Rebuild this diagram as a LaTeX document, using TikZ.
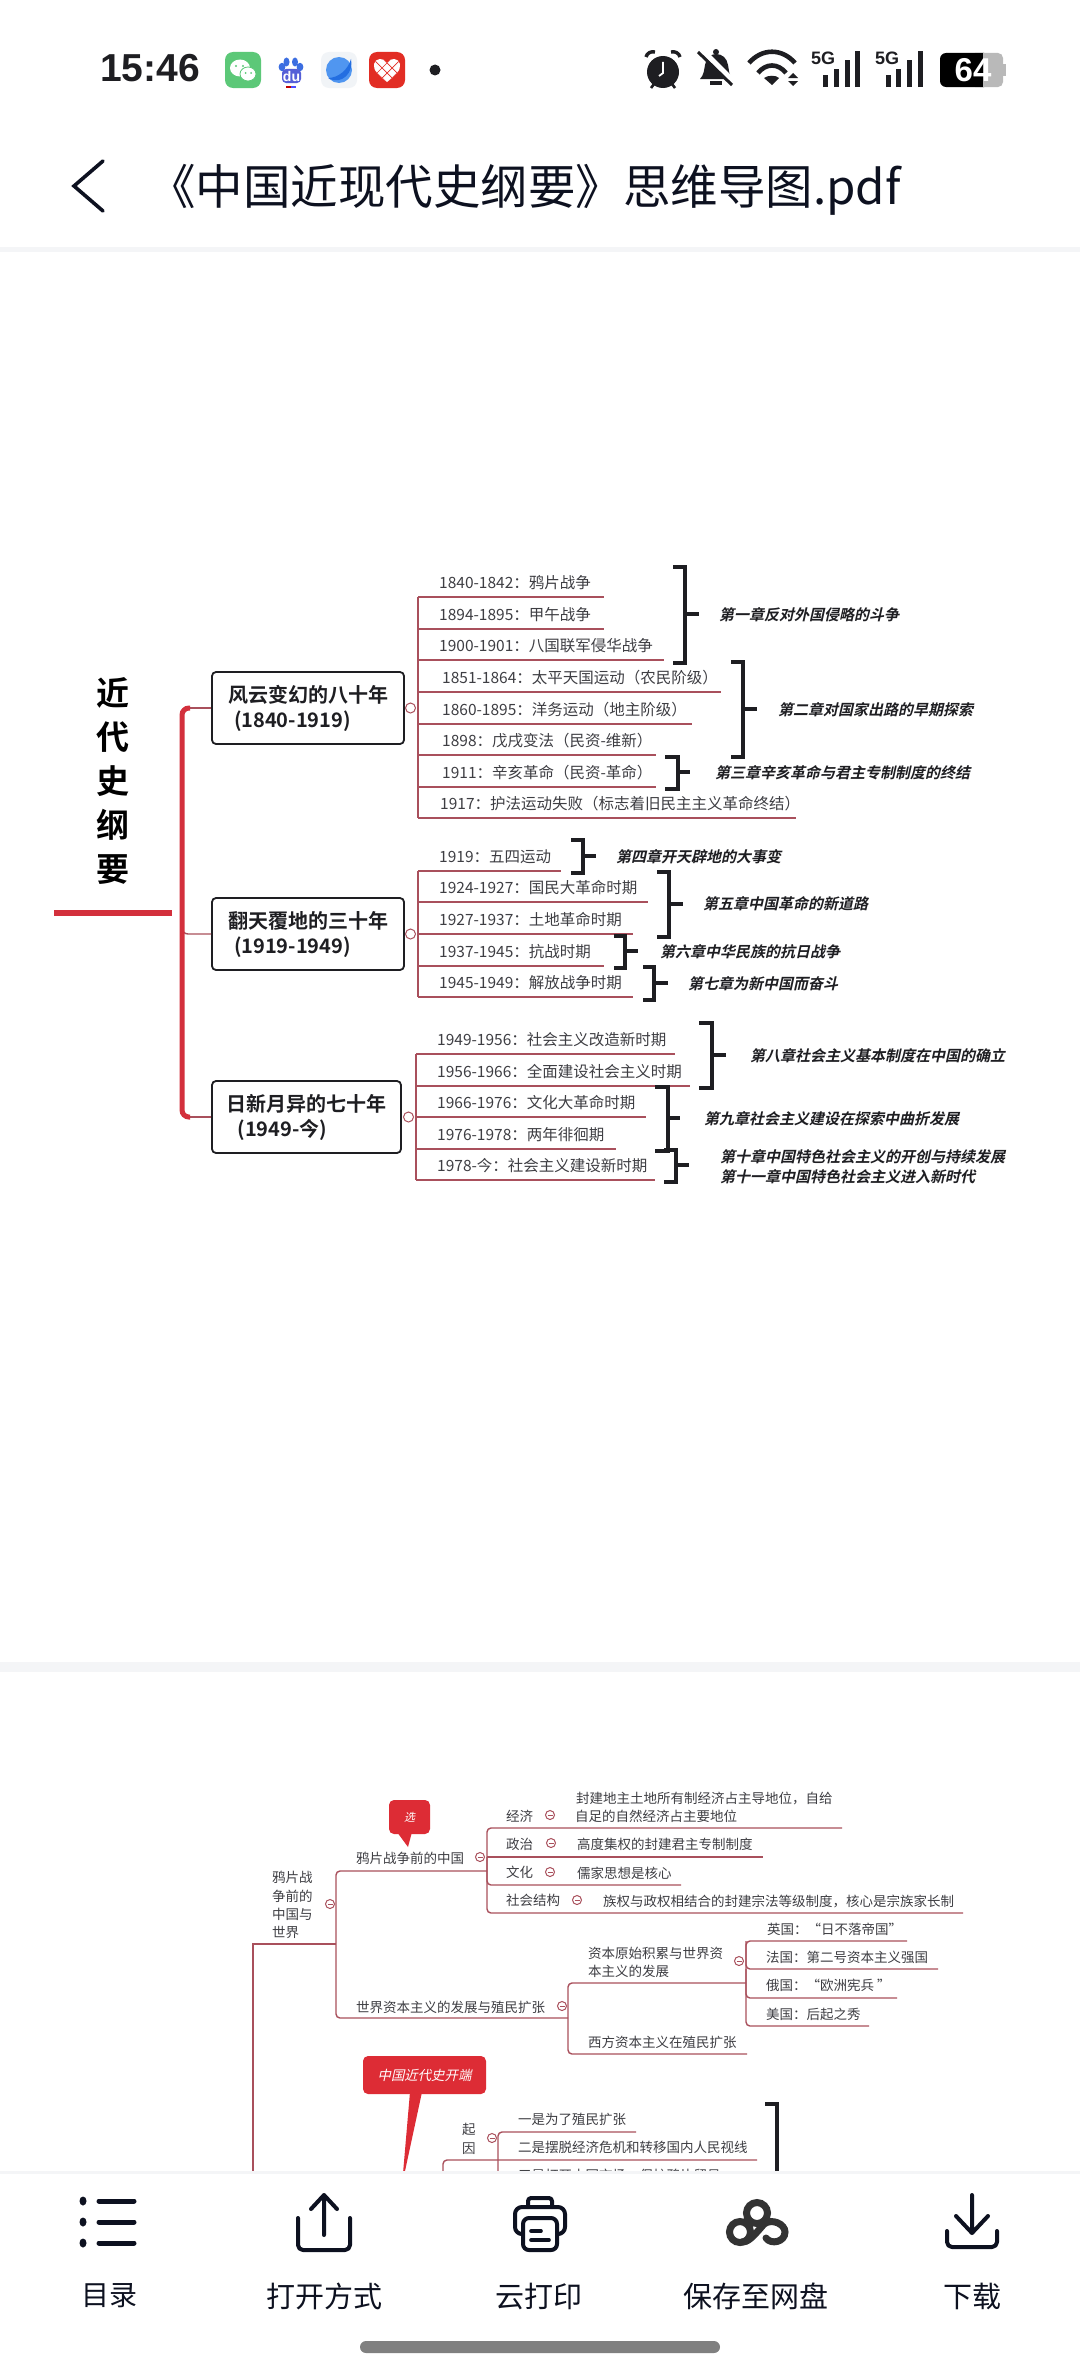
\documentclass[tikz,border=0pt]{standalone}
\usepackage{fontspec}
\setmainfont{Noto Sans CJK SC}[BoldFont={Noto Sans CJK SC Bold}]
\newfontfamily\slantfont{Noto Sans CJK SC}[FakeSlant=0.22,BoldFont={Noto Sans CJK SC Bold},BoldFeatures={FakeSlant=0.22}]
\newfontfamily\barfont{Liberation Sans}
\definecolor{twigred}{HTML}{A9505C}
\definecolor{trunkred}{HTML}{D3303C}
\definecolor{flagred}{HTML}{DD2C35}
\definecolor{inkdark}{HTML}{1E1E22}
\definecolor{rowgray}{HTML}{3E3E43}
\definecolor{navyink}{HTML}{0D1120}
\definecolor{paleband}{HTML}{F4F5F7}
\definecolor{wxgreen}{HTML}{5CC878}
\definecolor{baidublue}{HTML}{3C6EE1}
\definecolor{baidupurple}{HTML}{555FD7}
\definecolor{planetbg}{HTML}{F1F4F7}
\definecolor{planetlight}{HTML}{5096F0}
\definecolor{planetdark}{HTML}{236EE1}
\definecolor{iconred}{HTML}{E22D24}
\definecolor{battgray}{HTML}{B9B9B9}
\definecolor{panink}{HTML}{333333}
\definecolor{homegray}{HTML}{808080}
\tikzset{
	rowtext/.style={anchor=west,inner sep=0pt,text=rowgray,font=\fontsize{15.5}{15.5}\selectfont,text height=13.6pt,text depth=1.9pt},
	smalltext/.style={anchor=west,inner sep=0pt,text=rowgray,font=\fontsize{13.5}{13.5}\selectfont,text height=11.9pt,text depth=1.6pt},
	chaptext/.style={anchor=west,inner sep=0pt,text=inkdark,font=\slantfont\bfseries\fontsize{15}{15}\selectfont,text height=13.2pt,text depth=1.8pt},
	era/.style={draw=inkdark,line width=1.8pt,rounded corners=4pt,minimum width=192pt,minimum height=72pt,inner sep=0pt,align=left,text=inkdark,font=\bfseries\fontsize{20}{25}\selectfont},
	hub/.style={circle,draw=twigred,fill=white,line width=1pt,minimum size=10pt,inner sep=0pt},
	foldhub/.style={hub,minimum size=9pt,path picture={\draw[twigred,line width=.8pt] ([xshift=2pt]path picture bounding box.west) -- ([xshift=-2pt]path picture bounding box.east);}},
	twig/.style={draw=twigred,line width=1.4pt},
	bracket/.style={draw=inkdark,line width=4pt},
	trunk/.style={draw=trunkred,line width=5pt},
	flag/.style={fill=flagred,rounded corners=5pt,inner sep=0pt,text=white,font=\slantfont\fontsize{13.4}{13.4}\selectfont},
	tooltext/.style={inner sep=0pt,text=navyink,font=\fontsize{29}{29}\selectfont},
	toolline/.style={draw=navyink,line width=4pt,line cap=round,line join=round},
}
\begin{document}
\begin{tikzpicture}[x=1pt,y=-1pt]
	\useasboundingbox (0,0) rectangle (1080,2374);
	\fill[white] (0,0) rectangle (1080,2374);

	%status bar
	\node[inner sep=0pt,text=inkdark,font=\barfont\bfseries\fontsize{39}{39}\selectfont] (clock) at (150,68) {15:46};
	\fill[wxgreen,rounded corners=8pt] (225,52) rectangle (261,88);
	\fill[white] (240,68) ellipse (10 and 8.5);
	\fill[white,draw=wxgreen,line width=.8pt] (248,74) ellipse (8 and 7);
	\fill[wxgreen] (236,66) circle (1.1) (243,66) circle (1.1) (245.5,73) circle (1) (251,73) circle (1);
	\fill[baidublue] (282,67) ellipse (3.4 and 4.2) (286.5,62) ellipse (3 and 4.5) (295,62) ellipse (3 and 4.5) (300,67) ellipse (3.4 and 4.2);
	\fill[baidupurple,rounded corners=4pt] (282,69) rectangle (301,83);
	\node[inner sep=0pt,text=white,font=\barfont\bfseries\fontsize{14}{14}\selectfont] (baidu) at (291.5,76) {du};
	\fill[red!75!black] (286,86) rectangle (291,88);
	\fill[blue!70!white] (291,86) rectangle (296,88);
	\fill[planetbg,rounded corners=8pt] (321,52) rectangle (357,88);
	\fill[planetlight] (339,70) circle (13);
	\fill[planetdark] (328,78) .. controls (338,78) and (348,70) .. (351,59) .. controls (354,72) and (342,86) .. (328,78) -- cycle;
	\fill[iconred,rounded corners=8pt] (369,52) rectangle (405,88);
	\begin{scope}
		\clip (387,82) .. controls (378,75) and (373,70) .. (374,64) .. controls (375,58) and (384,57) .. (387,63) .. controls (390,57) and (399,58) .. (400,64) .. controls (401,70) and (396,75) .. (387,82) -- cycle;
		\fill[white] (370,55) rectangle (404,85);
		\draw[iconred,line width=.7pt] (372,68) -- (392,88) (372,58) -- (402,88) (382,58) -- (402,78) (402,68) -- (382,88) (402,58) -- (372,88) (392,58) -- (372,78);
	\end{scope}
	\fill[inkdark] (435,70) circle (5.5);

	%alarm clock
	\fill[inkdark] (663,72) circle (16);
	\draw[white,line width=1.8pt] (663,62) -- (663,73) -- (659,76);
	\draw[inkdark,line width=3.4pt] (646,57) .. controls (647,53) and (651,51) .. (655,52);
	\draw[inkdark,line width=3.4pt] (671,52) .. controls (675,51) and (679,53) .. (680,57);
	\draw[inkdark,line width=2.6pt] (654,84) -- (651,88) (672,84) -- (675,88);
	%muted bell
	\fill[inkdark] (716,52) circle (3);
	\fill[inkdark] (700,79) .. controls (704,75) and (704,70) .. (705,65) .. controls (706,58) and (711,54) .. (716,54) .. controls (722,54) and (727,58) .. (728,65) .. controls (729,70) and (729,75) .. (732,79) -- cycle;
	\fill[inkdark] (710,81) rectangle (722,85);
	\draw[white,line width=5.5pt] (701,49) -- (735,83);
	\draw[inkdark,line width=3pt] (698,52) -- (732,85);
	%wifi
	\draw[inkdark,line width=4.6pt] (749,63) .. controls (762,48) and (782,48) .. (795,63);
	\draw[inkdark,line width=4.6pt] (758,73) .. controls (766,63) and (778,63) .. (786,73);
	\fill[inkdark] (764,78) .. controls (768,75) and (776,75) .. (779,78) -- (772,85) -- cycle;
	\fill[inkdark] (793,73) -- (798,78) -- (788,78) -- cycle (788,81) -- (798,81) -- (793,86) -- cycle;
	%signal
	\node[inner sep=0pt,text=inkdark,font=\barfont\bfseries\fontsize{18}{18}\selectfont] (fiveg1) at (823,58) {5G};
	\node[inner sep=0pt,text=inkdark,font=\barfont\bfseries\fontsize{18}{18}\selectfont] (fiveg2) at (887,58) {5G};
	\draw[inkdark,line width=5pt] (825,87) -- (825,75) (836,87) -- (836,69) (847,87) -- (847,60) (857,87) -- (857,51);
	\draw[inkdark,line width=5pt] (888,87) -- (888,75) (898,87) -- (898,69) (909,87) -- (909,60) (920,87) -- (920,51);
	%battery
	\fill[battgray,rounded corners=5pt] (970,53) rectangle (1003,87);
	\fill[battgray] (1003,64) rectangle (1006,76);
	\fill[black,rounded corners=6pt] (940,53) rectangle (990,87);
	\fill[battgray] (983,53) rectangle (992,87);
	\node[inner sep=0pt,text=white,font=\barfont\bfseries\fontsize{33}{33}\selectfont] (battery) at (973,70) {64};

	%title bar
	\coordinate (backtop) at (103,161);
	\coordinate (backtip) at (74,186);
	\coordinate (backlow) at (103,211);
	\draw[navyink,line width=3.6pt,line cap=round,line join=miter] (backtop) -- (backtip) -- (backlow);
	\node[anchor=west,inner sep=0pt,text=navyink,font=\fontsize{47.5}{47.5}\selectfont] (doctitle) at (148,190) {《中国近现代史纲要》思维导图.pdf};
	\fill[paleband] (0,247) rectangle (1080,252);

	%overview page
	\node[inner sep=0pt,align=center,text=black,font=\bfseries\fontsize{33}{44}\selectfont] (maintitle) at (113,780.5) {近\\代\\史\\纲\\要};
	\coordinate (stemleft) at (54,913);
	\coordinate (stemright) at (172,913);
	\draw[draw=trunkred,line width=6pt] (stemleft) -- (stemright);

	\node[era] (era1) at (308,708) {风云变幻的八十年\\\hspace{6pt}(1840-1919)};
	\node[era] (era2) at (308,934) {翻天覆地的三十年\\\hspace{6pt}(1919-1949)};
	\node[era,minimum width=189pt] (era3) at (306.5,1117) {日新月异的七十年\\\hspace{11pt}(1949-今)};
	\coordinate (trunktop) at (182,708);
	\coordinate (trunklow) at (182,1117);
	\draw[twig] (era1.west) -- (188,708);
	\draw[twig] (era3.west) -- (188,1117);
	\draw[twig,rounded corners=6pt] (182,920) |- (era2.west);
	\draw[trunk,rounded corners=7pt] (190,708) -- (trunktop) -- (trunklow) -- (190,1117);

	%first era
	\node[hub] (hub1) at (410.5,708) {};
	\coordinate (fork1) at (418,708);
	\coordinate (a1) at (604,597);
	\coordinate (a2) at (604,629);
	\coordinate (a3) at (664,660);
	\coordinate (a4) at (721,692);
	\coordinate (a5) at (692,724);
	\coordinate (a6) at (656,755);
	\coordinate (a7) at (656,787);
	\coordinate (a8) at (796,818);
	\draw[twig] (fork1 |- a1) -- (fork1 |- a8);
	\draw[twig] (fork1 |- a1) -- (a1);
	\draw[twig] (fork1 |- a2) -- (a2);
	\draw[twig] (fork1 |- a3) -- (a3);
	\draw[twig] (fork1 |- a4) -- (a4);
	\draw[twig] (fork1 |- a5) -- (a5);
	\draw[twig] (fork1 |- a6) -- (a6);
	\draw[twig] (fork1 |- a7) -- (a7);
	\draw[twig] (fork1 |- a8) -- (a8);
	\node[rowtext] (ra1) at (439,583) {1840-1842：鸦片战争};
	\node[rowtext] (ra2) at (439,615) {1894-1895：甲午战争};
	\node[rowtext] (ra3) at (439,646) {1900-1901：八国联军侵华战争};
	\node[rowtext] (ra4) at (442,678) {1851-1864：太平天国运动（农民阶级）};
	\node[rowtext] (ra5) at (442,710) {1860-1895：洋务运动（地主阶级）};
	\node[rowtext] (ra6) at (442,741) {1898：戊戌变法（民资-维新）};
	\node[rowtext] (ra7) at (442,773) {1911：辛亥革命（民资-革命）};
	\node[rowtext] (ra8) at (440,804) {1917：护法运动失败（标志着旧民主主义革命终结）};
	\draw[bracket] (673,567) -- (685,567) -- (685,663) -- (673,663) (685,614) -- (699,614);
	\draw[bracket] (731,662) -- (743,662) -- (743,757) -- (731,757) (743,709) -- (757,709);
	\draw[bracket] (665,757) -- (678,757) -- (678,789) -- (665,789) (678,772) -- (690,772);
	\node[chaptext] (cha1) at (719,615) {第一章反对外国侵略的斗争};
	\node[chaptext] (cha2) at (778,710) {第二章对国家出路的早期探索};
	\node[chaptext] (cha3) at (715,773) {第三章辛亥革命与君主专制制度的终结};

	%second era
	\node[hub] (hub2) at (410.5,934) {};
	\coordinate (fork2) at (418,934);
	\coordinate (b1) at (561,871);
	\coordinate (b2) at (648,902);
	\coordinate (b3) at (633,934);
	\coordinate (b4) at (604,966);
	\coordinate (b5) at (633,997);
	\draw[twig] (fork2 |- b1) -- (fork2 |- b5);
	\draw[twig] (fork2 |- b1) -- (b1);
	\draw[twig] (fork2 |- b2) -- (b2);
	\draw[twig] (fork2 |- b3) -- (b3);
	\draw[twig] (fork2 |- b4) -- (b4);
	\draw[twig] (fork2 |- b5) -- (b5);
	\node[rowtext] (rb1) at (439,857) {1919：五四运动};
	\node[rowtext] (rb2) at (439,888) {1924-1927：国民大革命时期};
	\node[rowtext] (rb3) at (439,920) {1927-1937：土地革命时期};
	\node[rowtext] (rb4) at (439,952) {1937-1945：抗战时期};
	\node[rowtext] (rb5) at (439,983) {1945-1949：解放战争时期};
	\draw[bracket] (571,840) -- (583,840) -- (583,873) -- (571,873) (583,856) -- (596,856);
	\draw[bracket] (657,872) -- (669,872) -- (669,937) -- (657,937) (669,904) -- (683,904);
	\draw[bracket] (614,936) -- (625,936) -- (625,968) -- (614,968) (625,951) -- (638,951);
	\draw[bracket] (643,967) -- (654,967) -- (654,1000) -- (643,1000) (654,983) -- (668,983);
	\node[chaptext] (chb1) at (616,857) {第四章开天辟地的大事变};
	\node[chaptext] (chb2) at (703,904) {第五章中国革命的新道路};
	\node[chaptext] (chb3) at (660,952) {第六章中华民族的抗日战争};
	\node[chaptext] (chb4) at (688,984) {第七章为新中国而奋斗};

	%third era
	\node[hub] (hub3) at (408.5,1117) {};
	\coordinate (fork3) at (416,1117);
	\coordinate (c1) at (675,1054);
	\coordinate (c2) at (690,1086);
	\coordinate (c3) at (646,1117);
	\coordinate (c4) at (616,1149);
	\coordinate (c5) at (655,1180);
	\draw[twig] (fork3 |- c1) -- (fork3 |- c5);
	\draw[twig] (fork3 |- c1) -- (c1);
	\draw[twig] (fork3 |- c2) -- (c2);
	\draw[twig] (fork3 |- c3) -- (c3);
	\draw[twig] (fork3 |- c4) -- (c4);
	\draw[twig] (fork3 |- c5) -- (c5);
	\node[rowtext] (rc1) at (437,1040) {1949-1956：社会主义改造新时期};
	\node[rowtext] (rc2) at (437,1072) {1956-1966：全面建设社会主义时期};
	\node[rowtext] (rc3) at (437,1103) {1966-1976：文化大革命时期};
	\node[rowtext] (rc4) at (437,1135) {1976-1978：两年徘徊期};
	\node[rowtext] (rc5) at (437,1166) {1978-今：社会主义建设新时期};
	\draw[bracket] (699,1023) -- (712,1023) -- (712,1088) -- (699,1088) (712,1055) -- (726,1055);
	\draw[bracket] (655,1087) -- (668,1087) -- (668,1151) -- (655,1151) (668,1118) -- (680,1118);
	\draw[bracket] (664,1150) -- (676,1150) -- (676,1182) -- (664,1182) (676,1165) -- (689,1165);
	\node[chaptext] (chc1) at (750,1056) {第八章社会主义基本制度在中国的确立};
	\node[chaptext] (chc2) at (704,1119) {第九章社会主义建设在探索中曲折发展};
	\node[chaptext] (chc3) at (720,1157) {第十章中国特色社会主义的开创与持续发展};
	\node[chaptext] (chc4) at (720,1177) {第十一章中国特色社会主义进入新时代};

	\fill[paleband] (0,1662) rectangle (1080,1672);

	%second page
	\node[smalltext] (w1) at (272,1877) {鸦片战};
	\node[smalltext] (w2) at (272,1896) {争前的};
	\node[smalltext] (w3) at (272,1914) {中国与};
	\node[smalltext] (w4) at (272,1932) {世界};
	\node[foldhub] (hubw) at (330,1904) {};
	\coordinate (spine) at (253,1944);
	\coordinate (spinelow) at (253,2180);
	\coordinate (forkw) at (336,1944);
	\draw[twig,line width=1.1pt] (spinelow) -- (spine) -- (forkw);

	\coordinate (p1) at (487,1871);
	\coordinate (p2) at (568,2018);
	\draw[twig,rounded corners=4pt] (p1) -| (forkw) |- (p2);
	\node[smalltext] (before) at (356,1858) {鸦片战争前的中国};
	\node[foldhub] (hubp) at (480,1857) {};

	%exam flag
	\fill[flagred] (397,1832) -- (412,1832) -- (408,1847) -- cycle;
	\node[flag,minimum width=41pt,minimum height=34pt,font=\slantfont\fontsize{11}{11}\selectfont] (flagexam) at (409.5,1817) {选};

	\coordinate (d1) at (842,1828);
	\coordinate (d2) at (763,1857);
	\coordinate (d3) at (681,1885);
	\coordinate (d4) at (963,1913);
	\draw[twig,rounded corners=4pt] (d1) -- (p1 |- d1) -- (p1 |- d4) -- (d4);
	\draw[twig] (p1 |- d2) -- (d2);
	\draw[twig,rounded corners=4pt] (p1 |- d2) -- (p1 |- d3) -- (d3);
	\node[smalltext] (e1) at (506,1816) {经济};
	\node[smalltext] (e2) at (506,1844) {政治};
	\node[smalltext] (e3) at (506,1872) {文化};
	\node[smalltext] (e4) at (506,1900) {社会结构};
	\node[foldhub] (hube1) at (550,1815) {};
	\node[foldhub] (hube2) at (551,1843) {};
	\node[foldhub] (hube3) at (550,1872) {};
	\node[foldhub] (hube4) at (577,1900) {};
	\node[smalltext] (f1) at (576,1798) {封建地主土地所有制经济占主导地位，自给};
	\node[smalltext] (f2) at (575,1816) {自足的自然经济占主要地位};
	\node[smalltext] (f3) at (577,1844) {高度集权的封建君主专制制度};
	\node[smalltext] (f4) at (577,1873) {儒家思想是核心};
	\node[smalltext] (f5) at (603,1901) {族权与政权相结合的封建宗法等级制度，核心是宗族家长制};

	\node[smalltext] (world) at (356,2007) {世界资本主义的发展与殖民扩张};
	\node[foldhub] (hubc) at (562,2006) {};
	\coordinate (q1) at (746,1983);
	\coordinate (q2) at (747,2054);
	\draw[twig,rounded corners=4pt] (q1) -- (p2 |- q1) -- (p2 |- q2) -- (q2);
	\node[smalltext] (g1) at (588,1953) {资本原始积累与世界资};
	\node[smalltext] (g2) at (588,1971) {本主义的发展};
	\node[smalltext] (g3) at (588,2042) {西方资本主义在殖民扩张};
	\node[foldhub] (hubg) at (739,1961) {};

	\coordinate (k1) at (907,1941);
	\coordinate (k2) at (938,1969);
	\coordinate (k3) at (897,1998);
	\coordinate (k4) at (869,2026);
	\draw[twig,rounded corners=4pt] (k1) -- (q1 |- k1) -- (q1 |- k4) -- (k4);
	\draw[twig,rounded corners=4pt] (q1 |- k1) -- (q1 |- k2) -- (k2);
	\draw[twig,rounded corners=4pt] (q1 |- k2) -- (q1 |- k3) -- (k3);
	\node[smalltext] (h1) at (767,1929) {英国：“日不落帝国”};
	\node[smalltext] (h2) at (766,1957) {法国：第二号资本主义强国};
	\node[smalltext] (h3) at (766,1985) {俄国：“欧洲宪兵 ”};
	\node[smalltext] (h4) at (766,2014) {美国：后起之秀};

	%start flag
	\fill[flagred] (410,2092) -- (422,2092) -- (402,2185) -- cycle;
	\node[flag,minimum width=123pt,minimum height=38pt] (flagstart) at (424.5,2075) {中国近代史开端};

	\node[smalltext] (cause1) at (462,2129) {起};
	\node[smalltext] (cause2) at (462,2148) {因};
	\node[foldhub] (hubcause) at (492,2138) {};
	\coordinate (m1) at (636,2132);
	\coordinate (m2) at (757,2160);
	\coordinate (causelow) at (498,2180);
	\draw[twig,rounded corners=4pt] (m1) -- (causelow |- m1) -- (causelow);
	\draw[twig,rounded corners=4pt] (443,2180) -- (443,2160) -- (m2);
	\node[smalltext] (n1) at (518,2119) {一是为了殖民扩张};
	\node[smalltext] (n2) at (518,2147) {二是摆脱经济危机和转移国内人民视线};
	\node[smalltext] (n3) at (518,2175) {三是打开中国市场，保护鸦片贸易};
	\draw[bracket] (765,2104) -- (777,2104) -- (777,2190);
	\node[draw=inkdark,line width=1.6pt,rounded corners=4pt,minimum width=46pt,minimum height=48pt] (partbox) at (216,2196) {};

	%bottom bar
	\fill[white] (0,2172) rectangle (1080,2374);
	\fill[paleband] (0,2171) rectangle (1080,2174);

	\fill[navyink] (83,2201) ellipse (3.5 and 4.5) (83,2222) ellipse (3.5 and 4.5) (83,2243) ellipse (3.5 and 4.5);
	\draw[toolline,line width=5pt] (99,2201) -- (134,2201) (99,2222) -- (134,2222) (99,2243) -- (134,2243);

	\draw[toolline] (324,2235) -- (324,2195) (311,2209) -- (324,2195) -- (337,2209);
	\draw[toolline,rounded corners=5pt] (298,2218) -- (298,2250) -- (350,2250) -- (350,2218);

	\draw[toolline,line width=4pt,rounded corners=3pt] (528,2207) -- (528,2198) -- (552,2198) -- (552,2207);
	\draw[toolline,line width=4pt,rounded corners=7pt] (523,2234) -- (515,2234) -- (515,2207) -- (565,2207) -- (565,2234) -- (557,2234);
	\draw[toolline,fill=white,line width=4pt,rounded corners=6pt] (523,2218) rectangle (557,2250);
	\draw[toolline,line width=3.6pt] (531,2231) -- (541,2231) (531,2240) -- (549,2240);

	\draw[panink,line width=7pt] (757,2213) circle (10.5) (740,2232) circle (10.5);
	\draw[panink,line width=7pt,line cap=round] (742,2242) .. controls (748,2242) and (752,2238) .. (764,2224) .. controls (772,2218) and (785,2224) .. (785,2232) .. controls (785,2242) and (771,2245) .. (766,2238);

	\draw[toolline] (972,2233) -- (972,2195) (956,2216) -- (972,2233) -- (988,2216);
	\draw[toolline,rounded corners=5pt] (947,2231) -- (947,2247) -- (997,2247) -- (997,2231);

	\node[tooltext,font=\fontsize{28}{28}\selectfont] (tool1) at (109.5,2296) {目录};
	\node[tooltext] (tool2) at (324,2296) {打开方式};
	\node[tooltext] (tool3) at (539,2296) {云打印};
	\node[tooltext] (tool4) at (756,2296) {保存至网盘};
	\node[tooltext] (tool5) at (972,2296) {下载};

	\fill[homegray,rounded corners=6pt] (360,2341) rectangle (720,2353);
\end{tikzpicture}
\end{document}
